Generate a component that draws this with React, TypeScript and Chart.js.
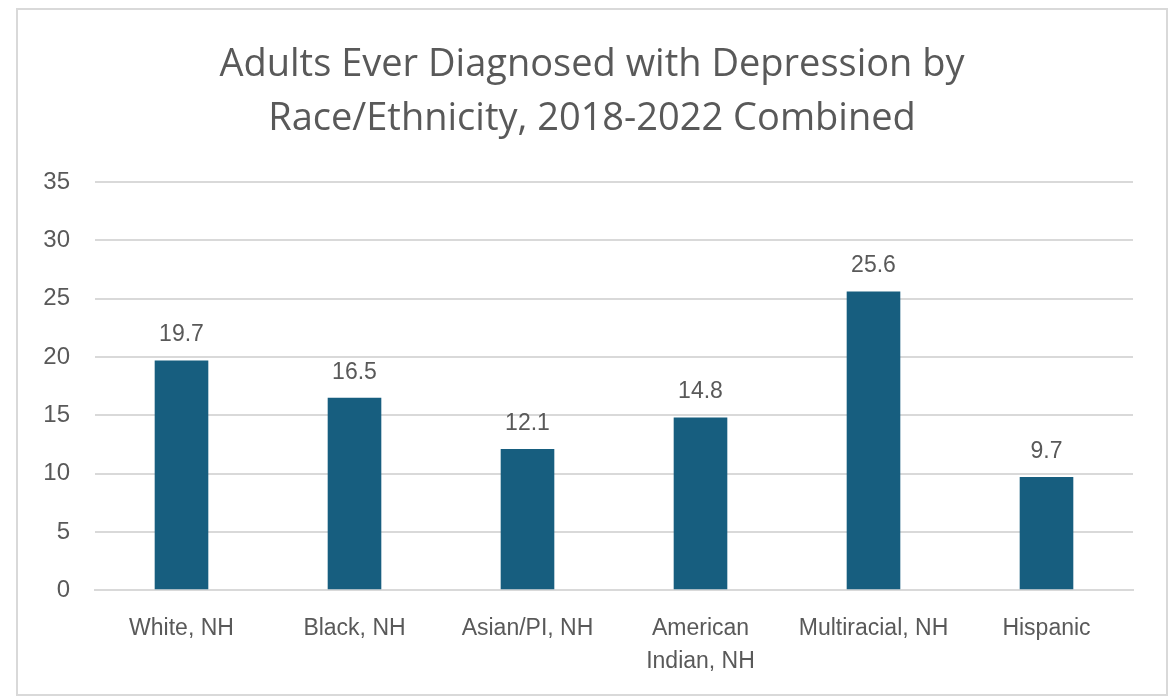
import React, { useEffect, useRef } from "react";
import { Chart, registerables } from "chart.js";

Chart.register(...registerables);

const categories: (string | string[])[] = [
  "White, NH",
  "Black, NH",
  "Asian/PI, NH",
  ["American", "Indian, NH"],
  "Multiracial, NH",
  "Hispanic",
];
const values = [19.7, 16.5, 12.1, 14.8, 25.6, 9.7];
const titleLines = ["Adults Ever Diagnosed with Depression by", "Race/Ethnicity, 2018-2022 Combined"];

const textColor = "#595959";
const barColor = "#175E7F";

const valueLabels = {
  id: "valueLabels",
  afterDatasetsDraw(chart: any) {
    const ctx = chart.ctx;
    const meta = chart.getDatasetMeta(0);
    ctx.save();
    ctx.fillStyle = textColor;
    ctx.font = "23px 'Liberation Sans', Arial, sans-serif";
    ctx.textAlign = "center";
    ctx.textBaseline = "bottom";
    meta.data.forEach((bar: any, i: number) => {
      ctx.fillText(values[i].toFixed(1), bar.x, bar.y - 14);
    });
    ctx.restore();
  },
};

export default function App() {
  const ref = useRef<HTMLCanvasElement>(null);
  useEffect(() => {
    if (!ref.current) return;
    const chart = new Chart(ref.current, {
      type: "bar",
      data: {
        labels: categories,
        datasets: [
          {
            data: values,
            backgroundColor: barColor,
            barPercentage: 0.62,
            categoryPercentage: 0.5,
          },
        ],
      },
      options: {
        animation: false,
        responsive: false,
        layout: { padding: { left: 0, right: 0, top: 0, bottom: -6 } },
        plugins: {
          legend: { display: false },
          tooltip: { enabled: false },
          title: {
            display: true,
            text: titleLines,
            color: textColor,
            font: { family: "'Open Sans', sans-serif", size: 38, weight: "normal", lineHeight: 1.42 },
            padding: { top: 28, bottom: 36 },
          },
        },
        scales: {
          x: {
            grid: { display: false, drawTicks: false },
            border: { display: true, color: "#d9d9d9", width: 2 },
            ticks: {
              color: textColor,
              font: { family: "'Liberation Sans', Arial, sans-serif", size: 23, lineHeight: 1.43 },
              padding: 22,
              maxRotation: 0,
              autoSkip: false,
            },
          },
          y: {
            min: 0,
            max: 35,
            afterFit: (s: any) => {
              s.width = 77;
            },
            ticks: {
              stepSize: 5,
              color: textColor,
              font: { family: "'Liberation Sans', Arial, sans-serif", size: 24 },
              padding: 25,
            },
            grid: { color: "#d9d9d9", lineWidth: 2, drawTicks: false },
            border: { display: false },
          },
          yRight: {
            type: "linear",
            position: "right",
            display: true,
            afterFit: (s: any) => {
              s.width = 33;
            },
            ticks: { display: false },
            grid: { display: false, drawTicks: false },
            border: { display: false },
          },
        },
      },
      plugins: [valueLabels],
    });
    return () => chart.destroy();
  }, []);
  return (
    <div
      style={{
        position: "absolute",
        left: 16,
        top: 8,
        width: 1152,
        height: 688,
        border: "2px solid #d9d9d9",
        boxSizing: "border-box",
        background: "#fff",
      }}
    >
      <canvas ref={ref} width={1148} height={684} style={{ display: "block" }} />
    </div>
  );
}
